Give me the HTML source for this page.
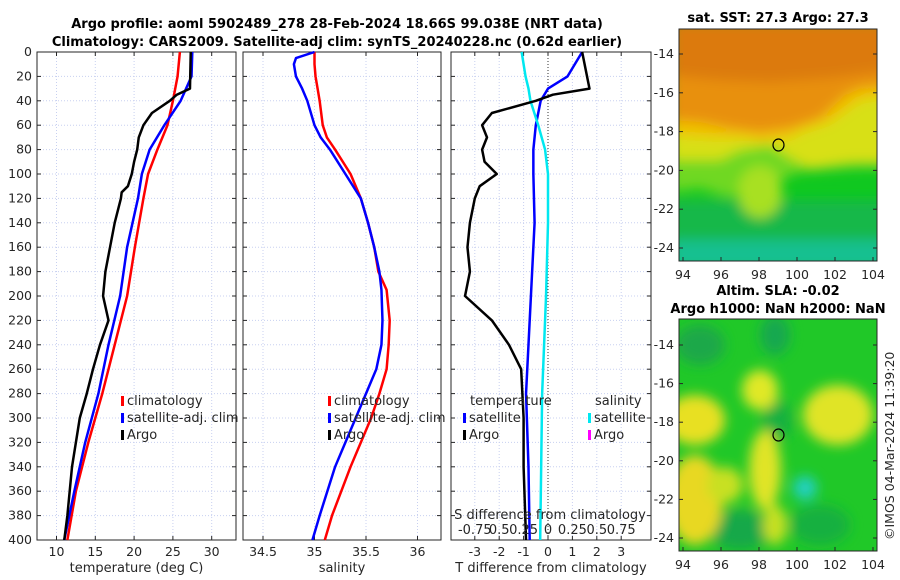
<!DOCTYPE html>
<html><head><meta charset="utf-8">
<style>
body{margin:0;background:#fff;}
svg{display:block;font-family:"DejaVu Sans","Liberation Sans",sans-serif;}
.tk{font-size:12.5px;fill:#262626;}
.ttl{font-size:13px;font-weight:bold;fill:#000;}
.lab{font-size:13px;fill:#262626;}
</style></head>
<body>
<svg id="fig" width="900" height="580" viewBox="0 0 900 580">
<defs>
<filter id="blur6" x="-20%" y="-20%" width="140%" height="140%"><feGaussianBlur stdDeviation="6"/></filter>
<clipPath id="c1"><rect x="679" y="29" width="198" height="232"/></clipPath>
<clipPath id="c2"><rect x="679" y="319" width="198" height="232"/></clipPath>
</defs>
<text class="ttl" x="337" y="28" text-anchor="middle">Argo profile: aoml 5902489_278 28-Feb-2024 18.66S 99.038E (NRT data)</text>
<text class="ttl" x="337" y="46" text-anchor="middle">Climatology: CARS2009. Satellite-adj clim: synTS_20240228.nc (0.62d earlier)</text>

<g clip-path="url(#c1)">
<rect x="679" y="29" width="198" height="232" fill="#10c820"/>
<g filter="url(#blur6)">
<rect x="670" y="200" width="220" height="70" fill="#12b848"/>
<rect x="670" y="240" width="220" height="30" fill="#14c090"/>
<polygon points="670,192 700,188 730,198 760,185 780,180 800,172 830,170 860,168 890,168 890,20 670,20" fill="#70d820"/>
<polygon points="670,160 720,160 740,150 770,145 790,158 810,168 850,162 890,162 890,20 670,20" fill="#d8e018"/>
<polygon points="670,135 720,138 745,138 760,142 790,138 800,132 830,122 860,100 890,95 890,20 670,20" fill="#f0c000"/>
<polygon points="670,120 700,122 730,128 760,132 790,128 820,118 845,95 860,88 890,85 890,20 670,20" fill="#e89010"/>
<polygon points="670,75 720,80 770,82 830,78 890,70 890,20 670,20" fill="#dc7a08"/>
<ellipse cx="760" cy="192" rx="22" ry="26" fill="#a8e020"/>
</g>
</g>
<rect x="679" y="29" width="198" height="232" fill="none" stroke="#262626"/>
<text class="ttl" x="778" y="22" text-anchor="middle">sat. SST: 27.3 Argo: 27.3</text>
<ellipse cx="778.5" cy="145" rx="5.5" ry="6" fill="none" stroke="#000" stroke-width="1.2"/>

<g clip-path="url(#c2)">
<rect x="679" y="319" width="198" height="232" fill="#20c828"/>
<g filter="url(#blur6)">
<ellipse cx="700" cy="345" rx="25" ry="20" fill="#1aa848"/>
<ellipse cx="775" cy="335" rx="15" ry="20" fill="#18a850"/>
<ellipse cx="777" cy="420" rx="15" ry="20" fill="#18b040"/>
<ellipse cx="740" cy="530" rx="30" ry="20" fill="#18a848"/>
<ellipse cx="820" cy="525" rx="30" ry="20" fill="#18b040"/>
<ellipse cx="760" cy="390" rx="18" ry="20" fill="#e0e828"/>
<ellipse cx="695" cy="420" rx="30" ry="25" fill="#e8e020"/>
<ellipse cx="838" cy="415" rx="35" ry="30" fill="#e0e428"/>
<ellipse cx="765" cy="470" rx="16" ry="40" fill="#e0e428"/>
<ellipse cx="775" cy="525" rx="12" ry="20" fill="#c8e020"/>
<ellipse cx="695" cy="500" rx="28" ry="45" fill="#e8d820"/>
<ellipse cx="725" cy="485" rx="18" ry="18" fill="#c8e020"/>
<ellipse cx="805" cy="488" rx="12" ry="12" fill="#20d0c0"/>
</g>
</g>
<rect x="679" y="319" width="198" height="232" fill="none" stroke="#262626"/>
<text class="ttl" x="778" y="295" text-anchor="middle">Altim. SLA: -0.02</text>
<text class="ttl" x="778" y="313" text-anchor="middle">Argo h1000: NaN h2000: NaN</text>
<ellipse cx="778.5" cy="435" rx="5.5" ry="6" fill="none" stroke="#000" stroke-width="1.2"/>
<text class="tk" transform="translate(894,540) rotate(-90)">©IMOS 04-Mar-2024 11:39:20</text>
</svg>
<script>
// ---- data ----
const depthT = [0,30,35,40,50,60,70,80,90,100,110,115,120,140,160,180,200,220,240,260,280,300,340,380,400];
const argoT  = [27.3,27.2,25.5,24.6,22.3,21.2,20.6,20.4,20.0,19.7,19.2,18.4,18.3,17.5,16.9,16.3,16.0,16.7,15.6,14.7,13.9,13.0,12.0,11.4,11.0];
const depthC = [0,20,40,60,80,100,120,160,200,240,280,320,360,400];
const climT  = [25.9,25.6,25.0,24.3,23.0,21.8,21.2,20.1,19.1,17.5,15.9,14.1,12.5,11.4];
const satT   = [27.5,27.4,26.0,23.9,22.0,21.0,20.5,19.1,18.2,16.7,15.4,13.7,12.3,11.0];
const depthS = [0,5,10,20,30,40,60,70,80,100,120,140,160,180,195,220,240,260,280,300,340,380,400];
const climS  = [35.0,35.0,35.0,35.01,35.03,35.05,35.08,35.12,35.2,35.35,35.45,35.52,35.58,35.62,35.7,35.73,35.72,35.7,35.63,35.55,35.35,35.17,35.1];
const satS   = [35.0,34.82,34.8,34.82,34.88,34.93,35.0,35.06,35.15,35.3,35.45,35.52,35.58,35.63,35.65,35.66,35.65,35.6,35.5,35.4,35.2,35.05,34.98];
const depthD = [0,30,35,40,50,60,70,80,90,100,110,120,140,160,180,200,220,240,260,300,340,400];
const argoDT = [1.4,1.7,0.2,-0.5,-2.3,-2.7,-2.5,-2.7,-2.6,-2.1,-2.8,-3.0,-3.2,-3.3,-3.2,-3.4,-2.3,-1.6,-1.1,-1.0,-1.0,-0.9];
const depthDS = [0,20,30,40,60,80,100,140,200,240,280,340,400];
const satDT  = [1.4,0.8,0.0,-0.3,-0.5,-0.6,-0.6,-0.55,-0.7,-0.8,-0.9,-0.8,-0.75];
const satDS  = [-0.27,-0.23,-0.2,-0.18,-0.1,-0.03,0,0,-0.02,-0.04,-0.06,-0.07,-0.08];
const depthTicks = [0,20,40,60,80,100,120,140,160,180,200,220,240,260,280,300,320,340,360,380,400];
const tTicks = [10,15,20,25,30];
const sTicks = [34.5,35,35.5,36];
const dTicks = [-3,-2,-1,0,1,2,3];
const dsTicks = ["-0.75","0.5","0.25","0","0.25","0.5","0.75"];
const lonTicks = [94,96,98,100,102,104];
const latTicks = [-14,-16,-18,-20,-22,-24];

const NS="http://www.w3.org/2000/svg";
const svg=document.getElementById('fig');
function mk(tag,attrs,parent){const e=document.createElementNS(NS,tag);for(const k in attrs)e.setAttribute(k,attrs[k]);(parent||svg).appendChild(e);return e;}
const Y0=52,Y1=540;
const yD=d=>Y0+(d/400)*(Y1-Y0);
const xT=v=>56.5+(v-10)*7.76;
const xS=v=>314.5+(v-35)*103;
const xD=v=>548+v*24.4;
const xDS=v=>548+v/0.25*24.4;
const lonX=v=>683+(v-94)*19;
const lat1=v=>54+(-14-v)*19.4;
const lat2=v=>345+(-14-v)*19.3;

function panel(name,x0,x1,xf,ticks,labels,xlabel){
  const g=mk('g',{});
  
  
  depthTicks.forEach(d=>{const l=mk('line',{x1:x0,x2:x1,y1:yD(d),y2:yD(d),stroke:'#c8d0f0','stroke-dasharray':'1,2'},g);
    });
  ticks.forEach((t,i)=>{const l=mk('line',{x1:xf(t),x2:xf(t),y1:Y0,y2:Y1,stroke:'#c8d0f0','stroke-dasharray':'1,2'},g);
    
    const tx=mk('text',{class:'tk',x:xf(t),y:556,'text-anchor':'middle'},g);tx.textContent=labels[i];
    
    mk('line',{x1:xf(t),x2:xf(t),y1:Y1,y2:Y1-4,stroke:'#262626'},g);mk('line',{x1:xf(t),x2:xf(t),y1:Y0,y2:Y0+4,stroke:'#262626'},g);});
  depthTicks.forEach(d=>{mk('line',{x1:x0,x2:x0+4,y1:yD(d),y2:yD(d),stroke:'#262626'},g);mk('line',{x1:x1,x2:x1-4,y1:yD(d),y2:yD(d),stroke:'#262626'},g);});
  const r=mk('rect',{x:x0,y:Y0,width:x1-x0,height:Y1-Y0,fill:'none',stroke:'#262626'},g);
  
  const xl=mk('text',{class:'lab',x:(x0+x1)/2,y:572,'text-anchor':'middle'},g);xl.textContent=xlabel;
  
  return g;
}
function line(name,xs,ds,xf,color,w){
  const p=mk('polyline',{points:xs.map((v,i)=>xf(v)+','+yD(ds[i])).join(' '),fill:'none',stroke:color,'stroke-width':w||2.5,'stroke-linejoin':'round'});
  
}
function legend(x,y,color,label,name){
  const g=mk('g',{});
  mk('rect',{x:x,y:y-9,width:3,height:10,fill:color},g);
  const t=mk('text',{class:'lab',x:x+6,y:y},g);t.textContent=label;
}
panel('temperature-panel',37,236,xT,tTicks,tTicks.map(String),'temperature (deg C)');
panel('salinity-panel',243,441,xS,sTicks,sTicks.map(String),'salinity');
panel('difference-panel',451,651,xD,dTicks,dTicks.map(String),'T difference from climatology');
depthTicks.forEach(d=>{const t=mk('text',{class:'tk',x:32,y:yD(d)+4,'text-anchor':'end'});t.textContent=d;
  });
const z=mk('line',{x1:xD(0),x2:xD(0),y1:Y0,y2:Y1,stroke:'#333','stroke-dasharray':'1,2'});


line('temp-climatology',climT,depthC,xT,'#ff0000');
line('temp-satellite',satT,depthC,xT,'#0000ff');
line('temp-argo',argoT,depthT,xT,'#000000');
line('sal-climatology',climS,depthS,xS,'#ff0000');
line('sal-satellite',satS,depthS,xS,'#0000ff');
line('tdiff-satellite',satDT,depthDS,xD,'#0000ff');
line('sdiff-satellite',satDS,depthDS,xDS,'#00e8f0');
line('tdiff-argo',argoDT,depthD,xD,'#000000');

legend(121,405,'#ff0000','climatology','legend-t-clim');
legend(121,422,'#0000ff','satellite-adj. clim','legend-t-sat');
legend(121,439,'#000000','Argo','legend-t-argo');
legend(328,405,'#ff0000','climatology','legend-s-clim');
legend(328,422,'#0000ff','satellite-adj. clim','legend-s-sat');
legend(328,439,'#000000','Argo','legend-s-argo');
let t=mk('text',{class:'lab',x:470,y:405});t.textContent='temperature';

t=mk('text',{class:'lab',x:595,y:405});t.textContent='salinity';

legend(463,422,'#0000ff','satellite','legend-dt-sat');
legend(463,439,'#000000','Argo','legend-dt-argo');
legend(588,422,'#00e8f0','satellite','legend-ds-sat');
legend(588,439,'#ff00ff','Argo','legend-ds-argo');
t=mk('text',{class:'lab',x:550,y:519,'text-anchor':'middle'});t.textContent='S difference from climatology';

dTicks.forEach((v,i)=>{const tx=mk('text',{class:'lab',x:xD(v),y:534,'text-anchor':'middle'});tx.textContent=dsTicks[i];
  });

function mapAxes(name,yTop,yBot,latf,lonY){
  lonTicks.forEach(v=>{mk('line',{x1:lonX(v),x2:lonX(v),y1:yBot,y2:yBot-4,stroke:'#262626'});
    const tx=mk('text',{class:'tk',x:lonX(v),y:lonY,'text-anchor':'middle'});tx.textContent=v;
    });
  latTicks.forEach(v=>{mk('line',{x1:679,x2:683,y1:latf(v),y2:latf(v),stroke:'#262626'});
    mk('line',{x1:877,x2:873,y1:latf(v),y2:latf(v),stroke:'#262626'});
    const tx=mk('text',{class:'tk',x:674,y:latf(v)+4,'text-anchor':'end'});tx.textContent=v;
    });
}
mapAxes('sst-map',29,261,lat1,279);
mapAxes('sla-map',319,551,lat2,569);
</script>
</body></html>
